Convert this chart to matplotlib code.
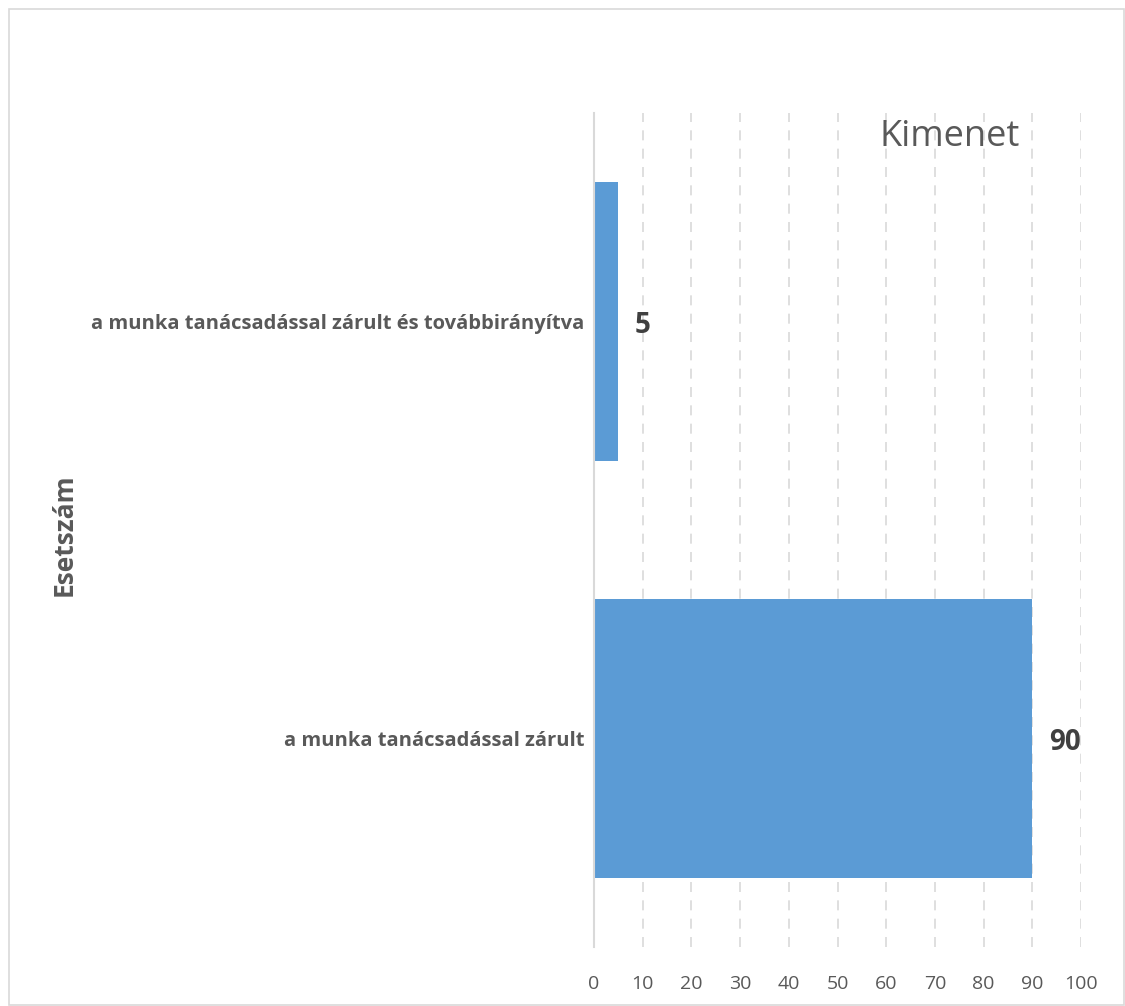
import matplotlib
matplotlib.use('Agg')
import matplotlib.pyplot as plt
from matplotlib.patches import Rectangle

categories = ['a munka tanácsadással zárult',
              'a munka tanácsadással zárult és továbbirányítva']
values = [90, 5]
xticks = list(range(0, 101, 10))

TEXT = '#595959'
BAR = '#5B9BD5'
GRID = '#D9D9D9'

plt.rcParams['font.family'] = ['Open Sans', 'DejaVu Sans']

fig = plt.figure(figsize=(11.25, 10.06), dpi=100)
ax = fig.add_axes([0.528, 0.0586, 0.4329, 0.8291])

pos = range(len(categories))
ax.barh(pos, values, height=0.667, color=BAR, zorder=3)

# value labels just right of each bar
for p, v in zip(pos, values):
    ax.annotate(str(v), xy=(v, p), xytext=(12, -3), textcoords='offset points',
                ha='left', va='center', fontsize=20, fontweight='bold', color='#404040')

ax.set_xlim(0, 100)
ax.set_ylim(-0.5, 1.5)
ax.set_xticks(xticks)
ax.set_yticks(list(pos))
ax.set_yticklabels(categories, fontsize=14.5, fontweight='bold', color=TEXT)
ax.tick_params(axis='x', length=0, pad=20, labelsize=14, labelcolor=TEXT)
ax.tick_params(axis='y', length=0, pad=7)

ax.grid(axis='x', color=GRID, linestyle=(0, (6, 5)), linewidth=1.2, zorder=0)
for s in ['top', 'right', 'bottom']:
    ax.spines[s].set_visible(False)
ax.spines['left'].set_color(GRID)
ax.spines['left'].set_linewidth(1.5)
ax.spines['left'].set_zorder(4)

ax.text(0.731, 0.971, 'Kimenet', transform=ax.transAxes, ha='center', va='center',
        fontsize=26, color=TEXT)

fig.text(64 / 1125, 1 - 535 / 1006, 'Esetszám', rotation=90, ha='center',
         va='center', fontsize=19, fontweight='bold', color=TEXT)

# light frame around the whole chart
fig.patches.append(Rectangle((9 / 1125, 0.001), 1115 / 1125, 1 - 9 / 1006 - 0.001,
                             transform=fig.transFigure, fill=False,
                             edgecolor=GRID, linewidth=1.2))

fig.savefig('out.png', dpi=100, facecolor='white')
